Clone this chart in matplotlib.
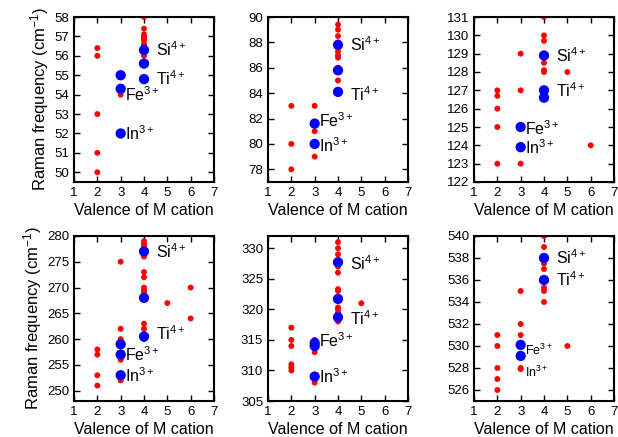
import matplotlib
matplotlib.use("Agg")
import matplotlib.pyplot as plt
import numpy as np

plt.rcParams['font.family'] = ['Liberation Sans', 'DejaVu Sans']
plt.rcParams['mathtext.fontset'] = 'custom'
plt.rcParams['mathtext.rm'] = 'Liberation Sans'
plt.rcParams['mathtext.it'] = 'Liberation Sans'
plt.rcParams['mathtext.bf'] = 'Liberation Sans:bold'
plt.rcParams['mathtext.default'] = 'regular'

# Panel data: red (all compounds) and blue (highlighted) points
p1_red_x = [2, 2, 2, 2, 2, 3, 4, 4, 4, 4, 4, 4, 4, 4, 4, 4]
p1_red_y = [56.4, 56.0, 53.0, 51.0, 50.0, 54.0, 58.0, 57.4, 57.1, 57.0, 56.9, 56.8, 56.6, 56.5, 56.3, 56.0]
p1_blue_x = [3, 3, 3, 4, 4, 4]
p1_blue_y = [55.0, 54.3, 52.0, 56.3, 55.6, 54.8]

p2_red_x = [2, 2, 2, 3, 3, 3, 3, 4, 4, 4, 4, 4, 4, 4, 4, 4, 4]
p2_red_y = [83, 80, 78, 83, 81, 80, 79, 89.4, 89.0, 88.5, 88.0, 87.3, 87.0, 86.8, 86.0, 85.0, 87.7]
p2_blue_x = [3, 3, 4, 4, 4]
p2_blue_y = [81.6, 80.0, 87.8, 85.8, 84.1]

p3_red_x = [2, 2, 2, 2, 2, 3, 3, 3, 3, 4, 4, 4, 4, 4, 4, 4, 5, 6]
p3_red_y = [127, 126.7, 126, 125, 123, 129, 127, 124, 123, 131, 130, 129.7, 129, 128.5, 128.1, 128.0, 128, 124]
p3_blue_x = [3, 3, 4, 4, 4]
p3_blue_y = [125, 123.9, 128.9, 127.0, 126.6]

p4_red_x = [2, 2, 2, 2, 3, 3, 3, 3, 3, 4, 4, 4, 4, 4, 4, 4, 4, 4, 4, 4, 4, 4, 4, 5, 6, 6]
p4_red_y = [258, 257, 253, 251, 275, 262, 260, 256, 252, 279, 278.5, 278, 277.5, 276, 273, 272, 270, 269.5, 269, 263, 262, 261, 260, 267, 270, 264]
p4_blue_x = [3, 3, 3, 4, 4, 4]
p4_blue_y = [259, 257, 253, 277, 268, 260.5]

p5_red_x = [2, 2, 2, 2, 2, 2, 3, 3, 3, 3, 4, 4, 4, 4, 4, 4, 4, 4, 4, 4, 4, 4, 4, 4, 5]
p5_red_y = [317, 315, 314, 311, 310.5, 310, 315, 314.5, 313, 308, 331, 330, 329, 328, 327, 326, 323.3, 323, 322, 320.3, 320, 319.5, 318.5, 318, 321]
p5_blue_x = [3, 3, 3, 4, 4, 4]
p5_blue_y = [314.5, 314, 309, 327.7, 321.7, 318.7]

p6_red_x = [2, 2, 2, 2, 2, 3, 3, 3, 3, 3, 4, 4, 4, 4, 4, 4, 4, 5]
p6_red_y = [531, 530, 528, 527, 526, 535, 532, 531, 528, 527.9, 540, 539, 537.5, 537, 535.3, 535, 534, 530]
p6_blue_x = [3, 3, 4, 4]
p6_blue_y = [530.1, 529.1, 538, 536]

# Ion labels: (text, x, y, fontsize)
p1_labels = [("Si$^{4+}$", 4.5, 56.3, 11.5), ("Ti$^{4+}$", 4.5, 54.8, 11.5), ("Fe$^{3+}$", 3.2, 54.0, 11.5), ("In$^{3+}$", 3.2, 52.0, 11.5)]
p2_labels = [("Si$^{4+}$", 4.5, 87.8, 11.5), ("Ti$^{4+}$", 4.5, 83.9, 11.5), ("Fe$^{3+}$", 3.2, 81.8, 11.5), ("In$^{3+}$", 3.2, 79.9, 11.5)]
p3_labels = [("Si$^{4+}$", 4.5, 128.9, 11.5), ("Ti$^{4+}$", 4.5, 127.0, 11.5), ("Fe$^{3+}$", 3.2, 124.9, 11.5), ("In$^{3+}$", 3.2, 123.9, 11.5)]
p4_labels = [("Si$^{4+}$", 4.5, 277, 11.5), ("Ti$^{4+}$", 4.5, 261, 11.5), ("Fe$^{3+}$", 3.2, 257, 11.5), ("In$^{3+}$", 3.2, 253, 11.5)]
p5_labels = [("Si$^{4+}$", 4.5, 327.5, 11.5), ("Ti$^{4+}$", 4.5, 318.5, 11.5), ("Fe$^{3+}$", 3.2, 314.8, 11.5), ("In$^{3+}$", 3.2, 309, 11.5)]
p6_labels = [("Si$^{4+}$", 4.5, 538, 11.5), ("Ti$^{4+}$", 4.5, 536, 11.5), ("Fe$^{3+}$", 3.2, 529.6, 9), ("In$^{3+}$", 3.2, 527.6, 9)]

panels = [
    (p1_red_x, p1_red_y, p1_blue_x, p1_blue_y, p1_labels, (49.5, 58), 1),
    (p2_red_x, p2_red_y, p2_blue_x, p2_blue_y, p2_labels, (77, 90), 2),
    (p3_red_x, p3_red_y, p3_blue_x, p3_blue_y, p3_labels, (122, 131), 1),
    (p4_red_x, p4_red_y, p4_blue_x, p4_blue_y, p4_labels, (248, 280), 5),
    (p5_red_x, p5_red_y, p5_blue_x, p5_blue_y, p5_labels, (305, 332), 5),
    (p6_red_x, p6_red_y, p6_blue_x, p6_blue_y, p6_labels, (525, 540), 2),
]

fig = plt.figure(figsize=(6.18, 4.37), dpi=100)
lefts = [74, 268, 474]
tops = [17, 236]
w_px, h_px = 140, 165
W, H = 618, 437

for i, (rx, ry, bx, by, labels, ylim, ystep) in enumerate(panels):
    row, col = divmod(i, 3)
    ax = fig.add_axes([lefts[col] / W, 1 - (tops[row] + h_px) / H, w_px / W, h_px / H])
    ax.scatter(rx, ry, s=18, color='#ff0000', edgecolors='none', zorder=2)
    ax.scatter(bx, by, s=55, color='#0000ff', edgecolors='none', zorder=3)
    for txt, tx, ty, fs in labels:
        ax.text(tx, ty, txt, fontsize=fs, va='center', ha='left', zorder=4)
    ax.set_xlim(1, 7)
    ax.set_ylim(*ylim)
    ax.set_xticks(range(1, 8))
    start = int(np.ceil(ylim[0] / ystep) * ystep)
    ax.set_yticks(np.arange(start, ylim[1] + 0.001, ystep))
    ax.tick_params(direction='in', top=True, right=True, labelsize=9.5, length=4, width=1)
    for sp in ax.spines.values():
        sp.set_linewidth(1.5)
    ax.set_xlabel("Valence of M cation", fontsize=11.5, labelpad=3)
    if col == 0:
        ax.set_ylabel("Raman frequency (cm$^{-1}$)", fontsize=12, labelpad=2)

fig.savefig("out.png", dpi=100)
